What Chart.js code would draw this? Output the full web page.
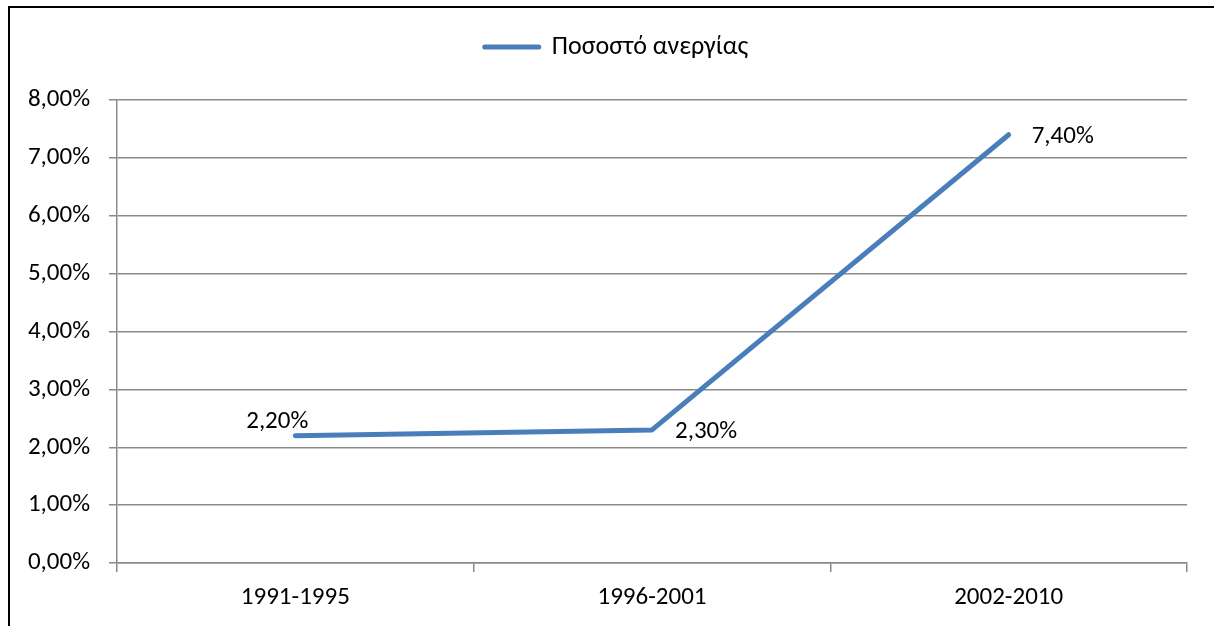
<!DOCTYPE html>
<html>
<head>
    <meta charset="UTF-8">
    <title>Ποσοστό ανεργίας</title>
    <script src="https://cdn.jsdelivr.net/npm/chart.js"></script>
    <style>
        html, body {
            margin: 0;
            padding: 0;
            background: #fff;
            overflow: hidden;
        }
        #frame {
            position: absolute;
            left: 8px;
            top: 6px;
            width: 1400px;
            height: 800px;
            border-top: 2px solid #000;
            border-left: 2px solid #000;
        }
        #chart {
            position: absolute;
            left: 0;
            top: 0;
        }
    </style>
</head>
<body>
    <div id="frame"></div>
    <canvas id="chart" width="1214" height="626"></canvas>

    <script>
        // data
        const categories = ['1991-1995', '1996-2001', '2002-2010'];
        const unemployment = [2.2, 2.3, 7.4];
        const seriesName = 'Ποσοστό ανεργίας';
        const yTicks = [0, 1, 2, 3, 4, 5, 6, 7, 8];

        const fontFamily = "Carlito, 'Open Sans', sans-serif";
        const fontSize = 25;
        const lineColor = '#4A7EBB';
        const gridColor = '#8a8a8a';

        const pct = v => v.toFixed(2).replace('.', ',') + '%';

        // Excel-like data labels next to each point
        const labelOffsets = [
            { dx: 13, dy: -14, align: 'right' },
            { dx: 23, dy: 2, align: 'left' },
            { dx: 23, dy: 2, align: 'left' }
        ];
        const dataLabels = {
            id: 'dataLabels',
            afterDatasetsDraw(chart) {
                const ctx = chart.ctx;
                const meta = chart.getDatasetMeta(0);
                ctx.save();
                ctx.font = fontSize + 'px ' + fontFamily;
                ctx.fillStyle = '#000';
                ctx.textBaseline = 'middle';
                meta.data.forEach((pt, i) => {
                    const o = labelOffsets[i];
                    ctx.textAlign = o.align;
                    ctx.fillText(pct(unemployment[i]), pt.x + o.dx, pt.y + o.dy);
                });
                ctx.restore();
            }
        };

        // push the plot area down under the legend and nudge the legend right
        const legendSpace = {
            id: 'legendSpace',
            beforeInit(chart) {
                const fit = chart.legend.fit;
                chart.legend.fit = function () {
                    fit.bind(chart.legend)();
                    this.height += 30;
                    if (this.lineWidths && this.lineWidths.length) {
                        this.lineWidths[0] -= 46;
                    }
                };
            }
        };

        new Chart(document.getElementById('chart'), {
            type: 'line',
            data: {
                labels: categories,
                datasets: [{
                    label: seriesName,
                    data: unemployment,
                    borderColor: lineColor,
                    backgroundColor: lineColor,
                    borderWidth: 5,
                    borderCapStyle: 'round',
                    borderJoinStyle: 'round',
                    pointRadius: 0,
                    pointHoverRadius: 0,
                    tension: 0
                }]
            },
            options: {
                responsive: false,
                animation: false,
                devicePixelRatio: 1,
                layout: {
                    padding: { top: 24, right: 27, bottom: 0, left: 0 }
                },
                plugins: {
                    tooltip: { enabled: false },
                    legend: {
                        position: 'top',
                        labels: {
                            boxWidth: 54,
                            boxHeight: 0,
                            padding: 10,
                            color: '#000',
                            font: { family: fontFamily, size: 26 }
                        }
                    }
                },
                scales: {
                    x: {
                        offset: true,
                        afterFit(axis) { axis.height = 63; },
                        grid: {
                            offset: true,
                            drawOnChartArea: false,
                            drawTicks: true,
                            tickLength: 9,
                            color: gridColor,
                            lineWidth: 1.5
                        },
                        border: { color: gridColor, width: 1.5 },
                        ticks: {
                            color: '#000',
                            padding: 11,
                            maxRotation: 0,
                            font: { family: fontFamily, size: fontSize }
                        }
                    },
                    y: {
                        min: 0,
                        max: 8,
                        afterFit(axis) { axis.width = 117; },
                        afterBuildTicks(axis) {
                            axis.ticks = yTicks.map(v => ({ value: v }));
                        },
                        grid: {
                            tickLength: 8,
                            color: gridColor,
                            lineWidth: 1.5
                        },
                        border: { color: gridColor, width: 1.5 },
                        ticks: {
                            color: '#000',
                            padding: 19,
                            font: { family: fontFamily, size: fontSize },
                            callback: v => pct(v)
                        }
                    }
                }
            },
            plugins: [legendSpace, dataLabels]
        });
    </script>
</body>
</html>
